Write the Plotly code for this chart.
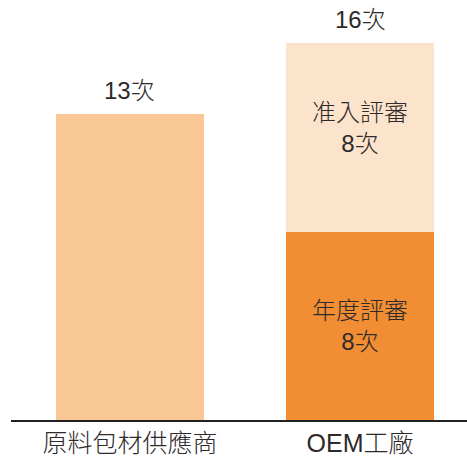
import plotly.graph_objects as go

categories = ["原料包材供應商", "OEM工廠"]
supplier_values = [13, 0]
annual_review = [0, 8]
entry_review = [0, 8]
segment_labels = {"annual": "年度評審", "entry": "准入評審"}
unit = "次"

FONT = "Liberation Sans, Arial, Noto Sans CJK TC, sans-serif"
TEXT_COLOR = "#2e2a2b"

def f(size):
    return dict(size=size, color=TEXT_COLOR, family=FONT, weight=300)

fig = go.Figure()
fig.add_trace(go.Bar(x=categories[:1], y=supplier_values[:1], marker_color="#F8C795",
                     width=0.643, marker_line_width=0, hoverinfo="skip"))
fig.add_trace(go.Bar(x=categories[1:], y=annual_review[1:], marker_color="#F18E33",
                     width=0.643, marker_line_width=0, hoverinfo="skip"))
fig.add_trace(go.Bar(x=categories[1:], y=entry_review[1:], marker_color="#FCE3CB",
                     width=0.643, marker_line_width=0, hoverinfo="skip"))

totals = [supplier_values[i] + annual_review[i] + entry_review[i] for i in range(len(categories))]
annotations = []
for cat, tot in zip(categories, totals):
    annotations.append(dict(x=cat, y=tot, text=f"{tot}{unit}", showarrow=False,
                            yanchor="bottom", yshift=8, font=f(24)))
annotations.append(dict(x=categories[1], y=annual_review[1] / 2,
                        text=f"{segment_labels['annual']}<br>{annual_review[1]}{unit}",
                        showarrow=False, yanchor="middle", yshift=0, font=f(24)))
annotations.append(dict(x=categories[1], y=annual_review[1] + entry_review[1] / 2,
                        text=f"{segment_labels['entry']}<br>{entry_review[1]}{unit}",
                        showarrow=False, yanchor="middle", yshift=9, font=f(24)))

fig.update_layout(
    barmode="stack",
    width=467, height=458,
    margin=dict(l=11, r=0, t=20, b=38),
    paper_bgcolor="white", plot_bgcolor="white",
    showlegend=False,
    annotations=annotations,
    font=f(24),
    xaxis=dict(range=[-0.517, 1.465], showline=True, linecolor="#231F20", linewidth=2,
               showgrid=False, zeroline=False, ticks="", tickfont=f(25),
               fixedrange=True, automargin=False),
    yaxis=dict(range=[0, 16.98], visible=False, showgrid=False, zeroline=False, fixedrange=True),
)

fig.write_html("out.html", config={"displayModeBar": False},
               post_script="document.body.style.margin='0';document.body.style.overflow='hidden';")
